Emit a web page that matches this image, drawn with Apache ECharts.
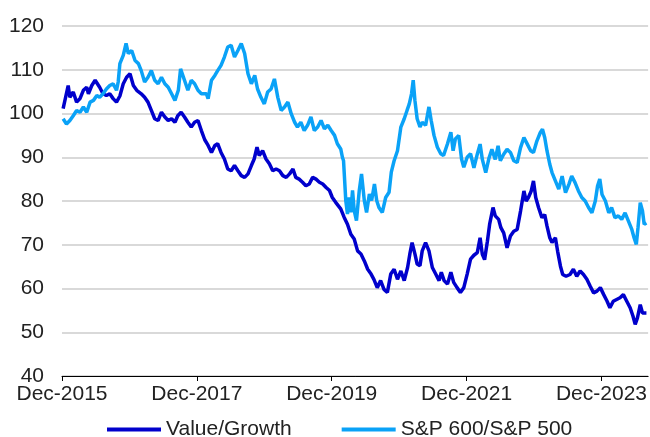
<!DOCTYPE html>
<html>
<head>
<meta charset="utf-8">
<script src="https://cdn.jsdelivr.net/npm/echarts@6/dist/echarts.min.js"></script>
<style>
html,body{margin:0;padding:0;background:#fff;}
#chart{width:650px;height:437px;}
</style>
</head>
<body>
<div id="chart"></div>
<script>
// Months elapsed since end of Dec-2015
var seriesNames = ["Value/Growth", "S&P 600/S&P 500"];
var yTicks = [40, 50, 60, 70, 80, 90, 100, 110, 120];
var xTickYears = [2015, 2017, 2019, 2021, 2023];

var vgMonths = [0.2,1.1,1.4,2.0,2.6,3.2,3.8,4.4,4.7,5.3,5.9,6.2,6.7,7.3,7.9,8.5,9.1,9.7,10.3,10.9,11.5,12.1,12.7,13.3,14.1,14.7,15.3,15.9,16.5,17.1,17.7,18.3,18.9,19.5,20.1,20.6,21.2,21.8,22.4,23.0,23.6,24.2,24.8,25.4,26.0,26.6,27.2,27.7,28.3,28.9,29.5,30.1,30.7,31.3,31.9,32.5,33.1,33.7,34.2,34.7,35.1,35.7,36.3,36.9,37.5,38.1,38.7,39.3,39.9,40.5,41.1,41.6,42.2,42.8,43.4,44.0,44.6,45.2,45.8,46.4,47.0,47.6,48.1,48.7,49.6,50.2,50.8,51.4,52.0,52.6,53.2,53.8,54.4,55.0,55.5,56.1,56.7,57.3,57.9,58.5,59.1,59.7,60.3,60.9,61.5,61.9,62.3,62.8,63.2,63.7,64.1,64.7,65.3,65.9,66.5,67.1,67.5,68.0,68.6,69.2,69.7,70.3,70.9,71.5,72.1,72.7,73.3,73.9,74.4,74.8,75.2,75.7,76.1,76.7,77.1,77.7,78.1,78.6,79.2,79.8,80.4,81.0,81.6,82.2,82.6,83.0,83.5,83.9,84.3,84.8,85.4,85.9,86.3,86.8,87.2,87.8,88.2,88.7,89.1,89.7,90.4,91.0,91.6,92.2,92.8,93.4,94.0,94.6,95.2,95.8,96.4,97.0,97.5,98.1,98.7,99.3,99.9,100.5,101.1,101.6,102.0,102.4,102.9,103.3,103.6,104.0];
var vgValues = [101.1,106.4,103.7,104.9,102.6,103.4,105.3,106.0,104.5,106.4,107.6,108.0,106.0,104.5,104.1,104.5,103.4,102.6,104.0,106.8,108.3,109.1,106.4,105.3,104.5,103.7,102.6,100.7,98.8,98.4,100.3,99.2,98.4,98.8,98.0,99.5,100.3,99.2,98.0,96.9,98.0,98.4,96.1,94.0,92.7,91.1,92.7,93.1,91.1,89.6,87.3,86.9,88.1,86.9,85.8,85.4,86.2,88.1,89.6,92.3,90.4,91.5,89.6,88.5,86.9,87.3,86.9,85.8,85.4,86.2,87.3,85.4,85.0,84.3,83.5,83.9,85.4,85.0,84.3,83.9,83.1,82.4,80.8,79.7,78.2,76.3,74.7,72.4,71.3,68.6,67.9,66.3,64.4,63.3,62.1,60.2,61.8,59.8,59.1,63.3,64.4,62.1,64.0,61.8,64.8,67.9,70.5,67.9,65.6,65.2,68.6,70.5,68.6,64.8,63.3,61.8,63.7,61.8,61.0,63.7,61.4,60.2,59.1,60.2,63.3,66.7,67.6,68.2,71.6,67.8,66.6,70.8,74.7,78.5,76.6,75.8,73.9,72.7,69.3,72.0,73.1,73.5,77.7,82.3,80.0,80.8,82.3,84.6,80.8,78.5,76.2,76.9,74.3,71.6,70.5,71.6,68.5,65.1,63.2,62.8,63.2,64.4,62.8,64.0,63.2,62.1,60.5,59.0,59.4,60.2,58.6,57.1,55.6,57.1,57.5,57.9,58.6,57.1,55.6,53.7,51.8,53.3,56.3,54.4,54.0,54.4];

var spMonths = [0.2,0.8,1.4,2.0,2.6,3.2,3.8,4.4,5.0,5.6,6.2,6.7,7.3,7.9,8.5,9.1,9.7,10.0,10.3,10.9,11.4,11.8,12.4,13.0,13.6,14.1,14.7,15.3,15.9,16.5,17.1,17.7,18.3,18.9,19.5,20.1,20.7,21.1,21.8,22.4,23.0,23.6,24.2,24.8,25.1,25.7,26.0,26.6,27.2,27.7,28.3,28.9,29.5,30.1,30.7,31.3,31.9,32.5,33.1,33.7,34.3,34.8,35.4,36.0,36.6,37.2,37.8,38.4,39.0,39.6,40.2,40.8,41.4,41.9,42.5,43.1,43.7,44.3,44.9,45.5,46.1,46.7,47.3,47.9,48.5,49.0,49.6,49.9,50.1,50.5,50.8,51.1,51.4,51.7,52.0,52.4,52.9,53.3,53.8,54.2,54.7,55.1,55.6,56.0,56.4,57.0,57.6,58.2,58.6,59.1,59.7,60.3,60.9,61.4,61.8,62.2,62.5,62.8,63.2,63.7,64.1,64.7,65.3,65.7,66.2,66.8,67.4,67.9,68.6,69.2,69.6,70.0,70.6,71.1,71.5,72.1,72.7,73.3,73.9,74.4,74.8,75.4,76.0,76.5,77.1,77.6,78.0,78.6,79.2,79.8,80.4,81.0,81.6,82.2,82.8,83.4,83.9,84.5,85.1,85.5,85.9,86.3,86.8,87.2,87.8,88.4,89.0,89.6,90.2,90.7,91.3,91.9,92.5,93.1,93.7,94.3,94.9,95.3,95.7,96.1,96.7,97.3,97.8,98.4,99.0,99.6,100.2,100.8,101.4,101.8,102.2,102.5,102.9,103.3,103.6,104.0];
var spValues = [98.8,97.6,98.4,99.5,100.7,100.3,101.5,100.3,102.6,103.0,104.1,103.7,104.5,105.6,106.4,106.8,105.3,107.2,111.4,113.3,116.0,113.7,114.4,112.1,111.4,109.8,107.2,108.3,109.8,107.6,106.8,108.3,106.8,106.0,104.5,103.0,105.3,110.2,107.6,105.3,107.6,106.8,105.3,104.5,104.1,104.5,103.4,107.6,108.7,109.8,111.0,112.9,115.2,115.6,112.9,114.4,116.0,113.7,109.1,106.8,108.7,105.6,103.7,102.2,104.9,105.6,107.9,103.7,100.7,101.5,102.6,99.9,98.0,96.9,98.0,96.1,97.3,99.2,96.1,96.9,98.4,96.5,97.3,96.1,95.0,93.1,91.9,90.0,89.2,80.1,77.0,80.8,77.4,82.4,77.8,75.5,82.4,86.2,80.1,77.4,81.6,80.1,83.9,80.1,78.5,77.4,80.8,82.0,86.6,89.2,91.5,96.9,98.8,100.7,102.2,104.5,107.6,103.0,98.8,96.9,98.0,97.3,101.5,98.4,95.0,92.3,90.8,90.4,93.1,95.7,91.5,94.2,95.0,89.6,87.7,90.0,90.8,87.6,90.7,93.0,89.5,86.5,89.9,91.8,89.5,92.6,89.2,90.7,91.8,91.1,89.2,88.8,92.2,94.5,93.0,91.5,91.1,93.7,95.6,96.4,94.5,91.5,88.4,86.5,84.6,82.7,85.7,81.9,83.8,85.7,84.2,82.3,80.8,80.0,78.5,77.3,80.0,83.4,85.0,81.5,80.0,77.3,78.5,76.2,76.6,75.8,77.3,75.4,73.5,71.6,70.1,73.9,79.6,77.7,74.7,75.0];

function pairs(xs, ys) {
  var out = [];
  for (var i = 0; i < xs.length; i++) out.push([xs[i], ys[i]]);
  return out;
}

var FONT = "'Liberation Sans', Arial, sans-serif";
var chart = echarts.init(document.getElementById('chart'), null, {renderer: 'canvas'});
chart.setOption({
  animation: false,
  backgroundColor: '#ffffff',
  textStyle: {fontFamily: FONT},
  grid: {left: 62, right: 0, top: 26, bottom: 61, containLabel: false},
  legend: {
    left: 102, top: 414,
    itemWidth: 54, itemHeight: 4, itemGap: 50,
    icon: 'rect',
    textStyle: {fontFamily: FONT, fontSize: 21, color: '#222', padding: [0,0,0,0]},
    data: seriesNames
  },
  xAxis: {
    type: 'value',
    min: 0, max: 104.3, interval: 24,
    splitLine: {show: false},
    axisLine: {show: true, lineStyle: {color: '#000', width: 1}},
    axisTick: {show: true, length: 5, lineStyle: {color: '#000'}},
    axisLabel: {
      fontFamily: FONT, fontSize: 21, color: '#222', margin: 8,
      showMaxLabel: false,
      formatter: function (v) {
        if (v % 24 !== 0) return '';
        return 'Dec-' + (xTickYears[0] + v / 12);
      }
    }
  },
  yAxis: {
    type: 'value',
    min: yTicks[0], max: yTicks[yTicks.length - 1], interval: 10,
    axisLine: {show: false},
    axisTick: {show: false},
    splitLine: {lineStyle: {color: '#d9d9d9', width: 2}},
    axisLabel: {fontFamily: FONT, fontSize: 21, color: '#222', margin: 18}
  },
  series: [
    {
      name: seriesNames[0], type: 'line', showSymbol: false,
      data: pairs(vgMonths, vgValues),
      lineStyle: {color: '#0000CC', width: 3.5},
      itemStyle: {color: '#0000CC'}
    },
    {
      name: seriesNames[1], type: 'line', showSymbol: false,
      data: pairs(spMonths, spValues),
      lineStyle: {color: '#0AA2F7', width: 3.5},
      itemStyle: {color: '#0AA2F7'}
    }
  ]
});
</script>
</body>
</html>
